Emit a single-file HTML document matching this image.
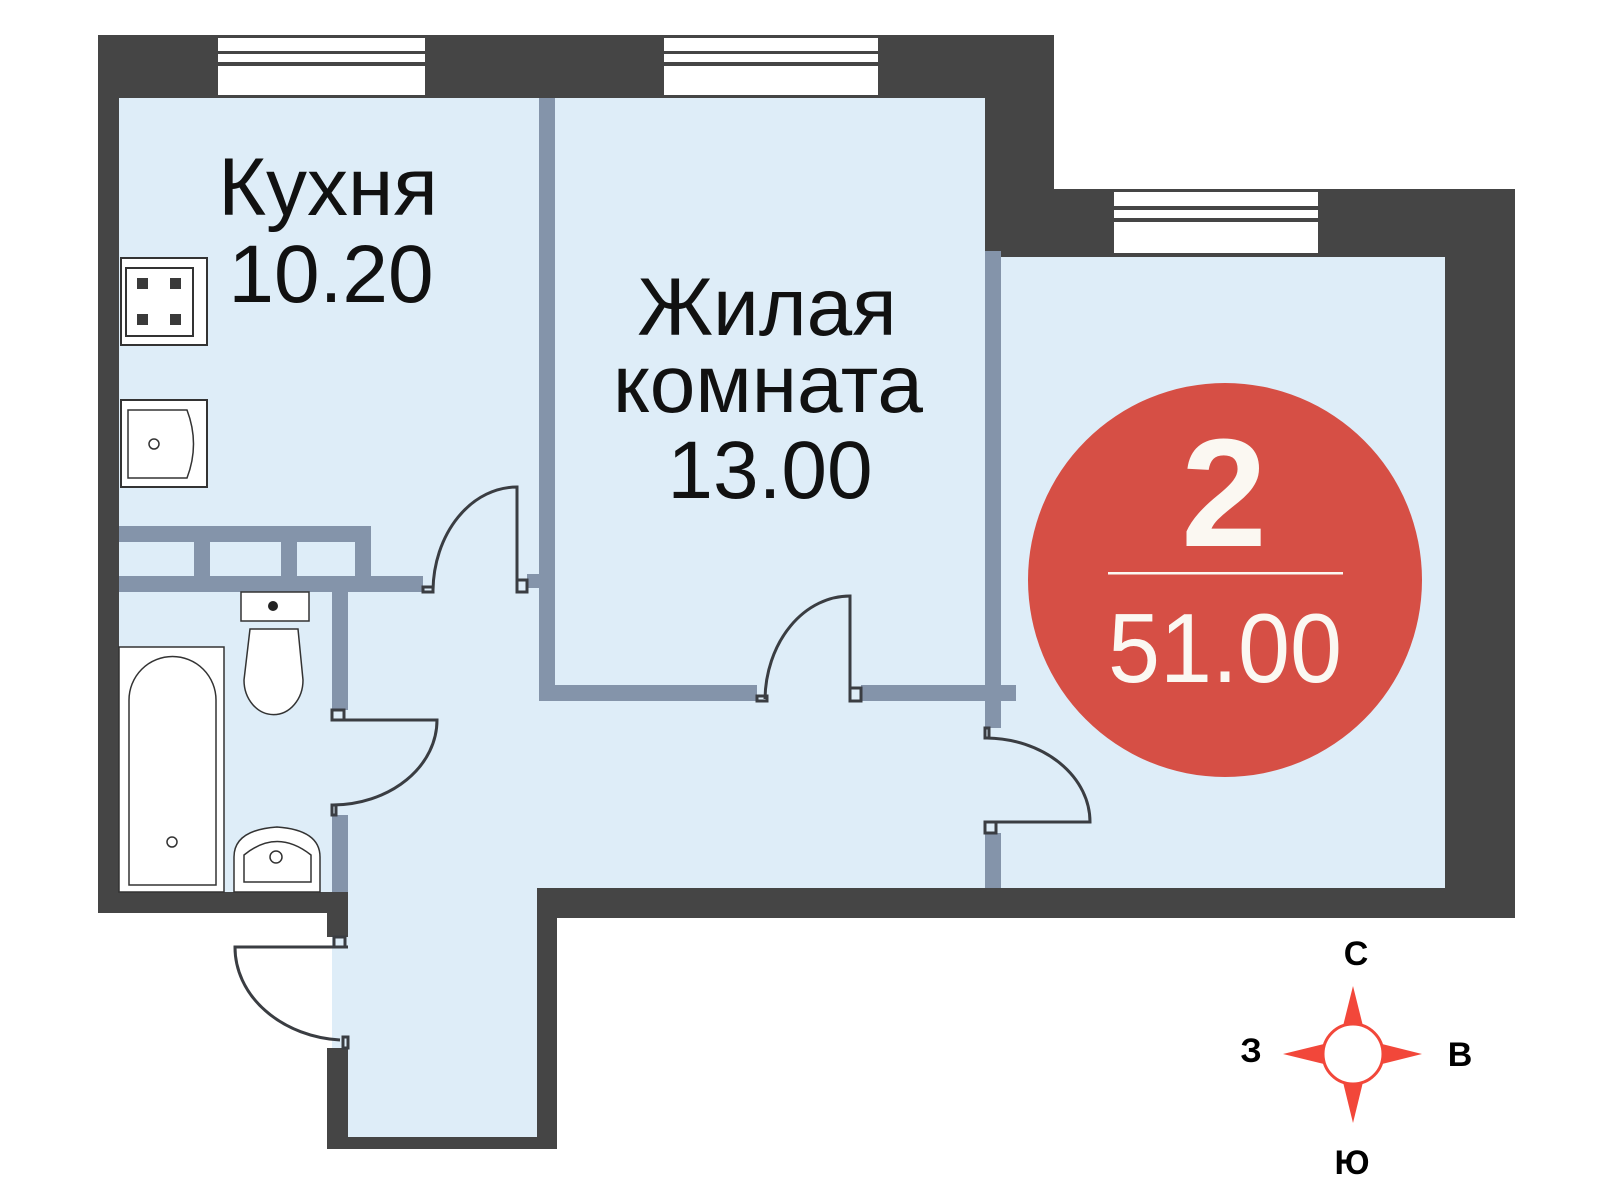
<!DOCTYPE html>
<html><head><meta charset="utf-8"><style>
html,body{margin:0;padding:0;background:#fff;}
svg{display:block;}
text{font-family:"Liberation Sans","DejaVu Sans",sans-serif;}
</style></head><body>
<svg width="1600" height="1200" viewBox="0 0 1600 1200" xmlns="http://www.w3.org/2000/svg">
<rect width="1600" height="1200" fill="#fff"/>
<!-- outer walls -->
<polygon points="98,35 1054,35 1054,189 1515,189 1515,918 557,918 557,1149 327,1149 327,913 98,913" fill="#454545"/>
<!-- interior -->
<polygon points="119,98 985,98 985,257 1445,257 1445,888 537,888 537,1137 348,1137 348,892 119,892" fill="#deedf8"/>
<!-- entrance opening -->
<rect x="327" y="937" width="5" height="111" fill="#fff"/>
<rect x="332" y="937" width="16" height="111" fill="#deedf8"/>
<!-- windows -->
<g fill="#fff">
<rect x="218" y="38" width="207" height="13"/><rect x="218" y="54" width="207" height="8"/><rect x="218" y="66" width="207" height="29"/>
<rect x="664" y="38" width="214" height="13"/><rect x="664" y="54" width="214" height="8"/><rect x="664" y="66" width="214" height="29"/>
<rect x="1114" y="192" width="204" height="14"/><rect x="1114" y="210" width="204" height="8"/><rect x="1114" y="222" width="204" height="31"/>
</g>
<!-- inner partitions -->
<g fill="#8494aa">
<rect x="119" y="526" width="252" height="16"/>
<rect x="119" y="576" width="304" height="16"/>
<rect x="194" y="526" width="16" height="66"/>
<rect x="281" y="526" width="16" height="66"/>
<rect x="355" y="526" width="16" height="66"/>
<rect x="539" y="98" width="16" height="603"/>
<rect x="527" y="574" width="14" height="14"/>
<rect x="539" y="685" width="218" height="16"/>
<rect x="861" y="685" width="155" height="16"/>
<rect x="985" y="251" width="16" height="477"/>
<rect x="985" y="833" width="16" height="55"/>
<rect x="332" y="592" width="16" height="118"/>
<rect x="332" y="815" width="16" height="77"/>
</g>
<!-- doors -->
<g fill="none" stroke="#3a3d42" stroke-width="3">
<path d="M517,592 L517,487 A84,105 0 0 0 433,590"/>
<rect x="423" y="587" width="10" height="5"/>
<rect x="517" y="580" width="10" height="12"/>
<path d="M850,701 L850,596 A85,105 0 0 0 765,699"/>
<rect x="757" y="696" width="10" height="5"/>
<rect x="850" y="688" width="11" height="13"/>
<path d="M332,720 L437,720 A105,85 0 0 1 333,805"/>
<rect x="332" y="710" width="12" height="10"/>
<rect x="332" y="805" width="4" height="10"/>
<path d="M985,822 L1090,822 A105,84 0 0 0 987,738"/>
<rect x="985" y="728" width="4" height="10"/>
<rect x="985" y="822" width="11" height="11"/>
<path d="M348,947 L235,947 A113,93 0 0 0 340,1040"/>
<rect x="334" y="937" width="11" height="10"/>
<rect x="343" y="1037" width="5" height="11"/>
</g>
<!-- stove -->
<rect x="121" y="258" width="86" height="87" fill="#fff" stroke="#333" stroke-width="2"/>
<rect x="126" y="268" width="67" height="68" fill="#fff" stroke="#333" stroke-width="2"/>
<g fill="#3a3a3a"><rect x="137" y="278" width="11" height="11"/><rect x="170" y="278" width="11" height="11"/><rect x="137" y="314" width="11" height="11"/><rect x="170" y="314" width="11" height="11"/></g>
<!-- kitchen sink -->
<rect x="121" y="400" width="86" height="87" fill="#fff" stroke="#333" stroke-width="2"/>
<path d="M128,410 L187,410 Q200,444 187,478 L128,478 Z" fill="#fff" stroke="#333" stroke-width="1.5"/>
<circle cx="154" cy="444" r="5" fill="#fff" stroke="#333" stroke-width="1.5"/>
<!-- toilet -->
<rect x="241" y="592" width="68" height="29" fill="#fff" stroke="#333" stroke-width="1.5"/>
<circle cx="273" cy="606" r="5" fill="#222"/>
<path d="M250,629 L298,629 L303,680 A29,34 0 0 1 244,680 Z" fill="#fff" stroke="#333" stroke-width="1.5"/>
<!-- bath -->
<rect x="119" y="647" width="105" height="245" fill="#fff" stroke="#333" stroke-width="1.5"/>
<path d="M129,885 L129,700 A43,43 0 0 1 216,700 L216,885 Z" fill="#fff" stroke="#333" stroke-width="1.5"/>
<circle cx="172" cy="842" r="5" fill="#fff" stroke="#333" stroke-width="1.5"/>
<!-- wash basin -->
<path d="M234,892 L234,857 Q234,830 277,827 Q320,830 320,857 L320,892 Z" fill="#fff" stroke="#333" stroke-width="1.5"/>
<path d="M244,882 L244,855 Q277,828 311,855 L311,882 Z" fill="#fff" stroke="#333" stroke-width="1.5"/>
<circle cx="276" cy="857" r="6" fill="#fff" stroke="#333" stroke-width="1.5"/>
<!-- labels -->
<g fill="#111" font-size="82" text-anchor="middle">
<text x="328" y="215">Кухня</text>
<text x="331" y="302">10.20</text>
<text x="767" y="335">Жилая</text>
<text x="768" y="412">комната</text>
<text x="770" y="498">13.00</text>
</g>
<!-- badge -->
<circle cx="1225" cy="580" r="197" fill="#d64f45"/>
<text x="1224" y="546" fill="#fbf8f2" font-size="154" font-weight="bold" text-anchor="middle">2</text>
<rect x="1108" y="572" width="235" height="2.5" fill="#fbf8f2"/>
<text x="1225" y="682" fill="#fbf8f2" font-size="98" text-anchor="middle" textLength="234" lengthAdjust="spacingAndGlyphs">51.00</text>
<!-- compass -->
<g fill="#f2473a">
<polygon points="1353,986 1342,1030 1364,1030"/>
<polygon points="1353,1123 1342,1078 1364,1078"/>
<polygon points="1283,1054 1328,1043 1328,1065"/>
<polygon points="1422,1054 1378,1043 1378,1065"/>
</g>
<circle cx="1353" cy="1054" r="30" fill="#fff" stroke="#f2473a" stroke-width="3"/>
<g fill="#000" font-size="34" font-weight="bold" text-anchor="middle">
<text x="1356" y="965">С</text>
<text x="1251" y="1062">З</text>
<text x="1460" y="1066">В</text>
<text x="1352" y="1174">Ю</text>
</g>
</svg>
</body></html>
